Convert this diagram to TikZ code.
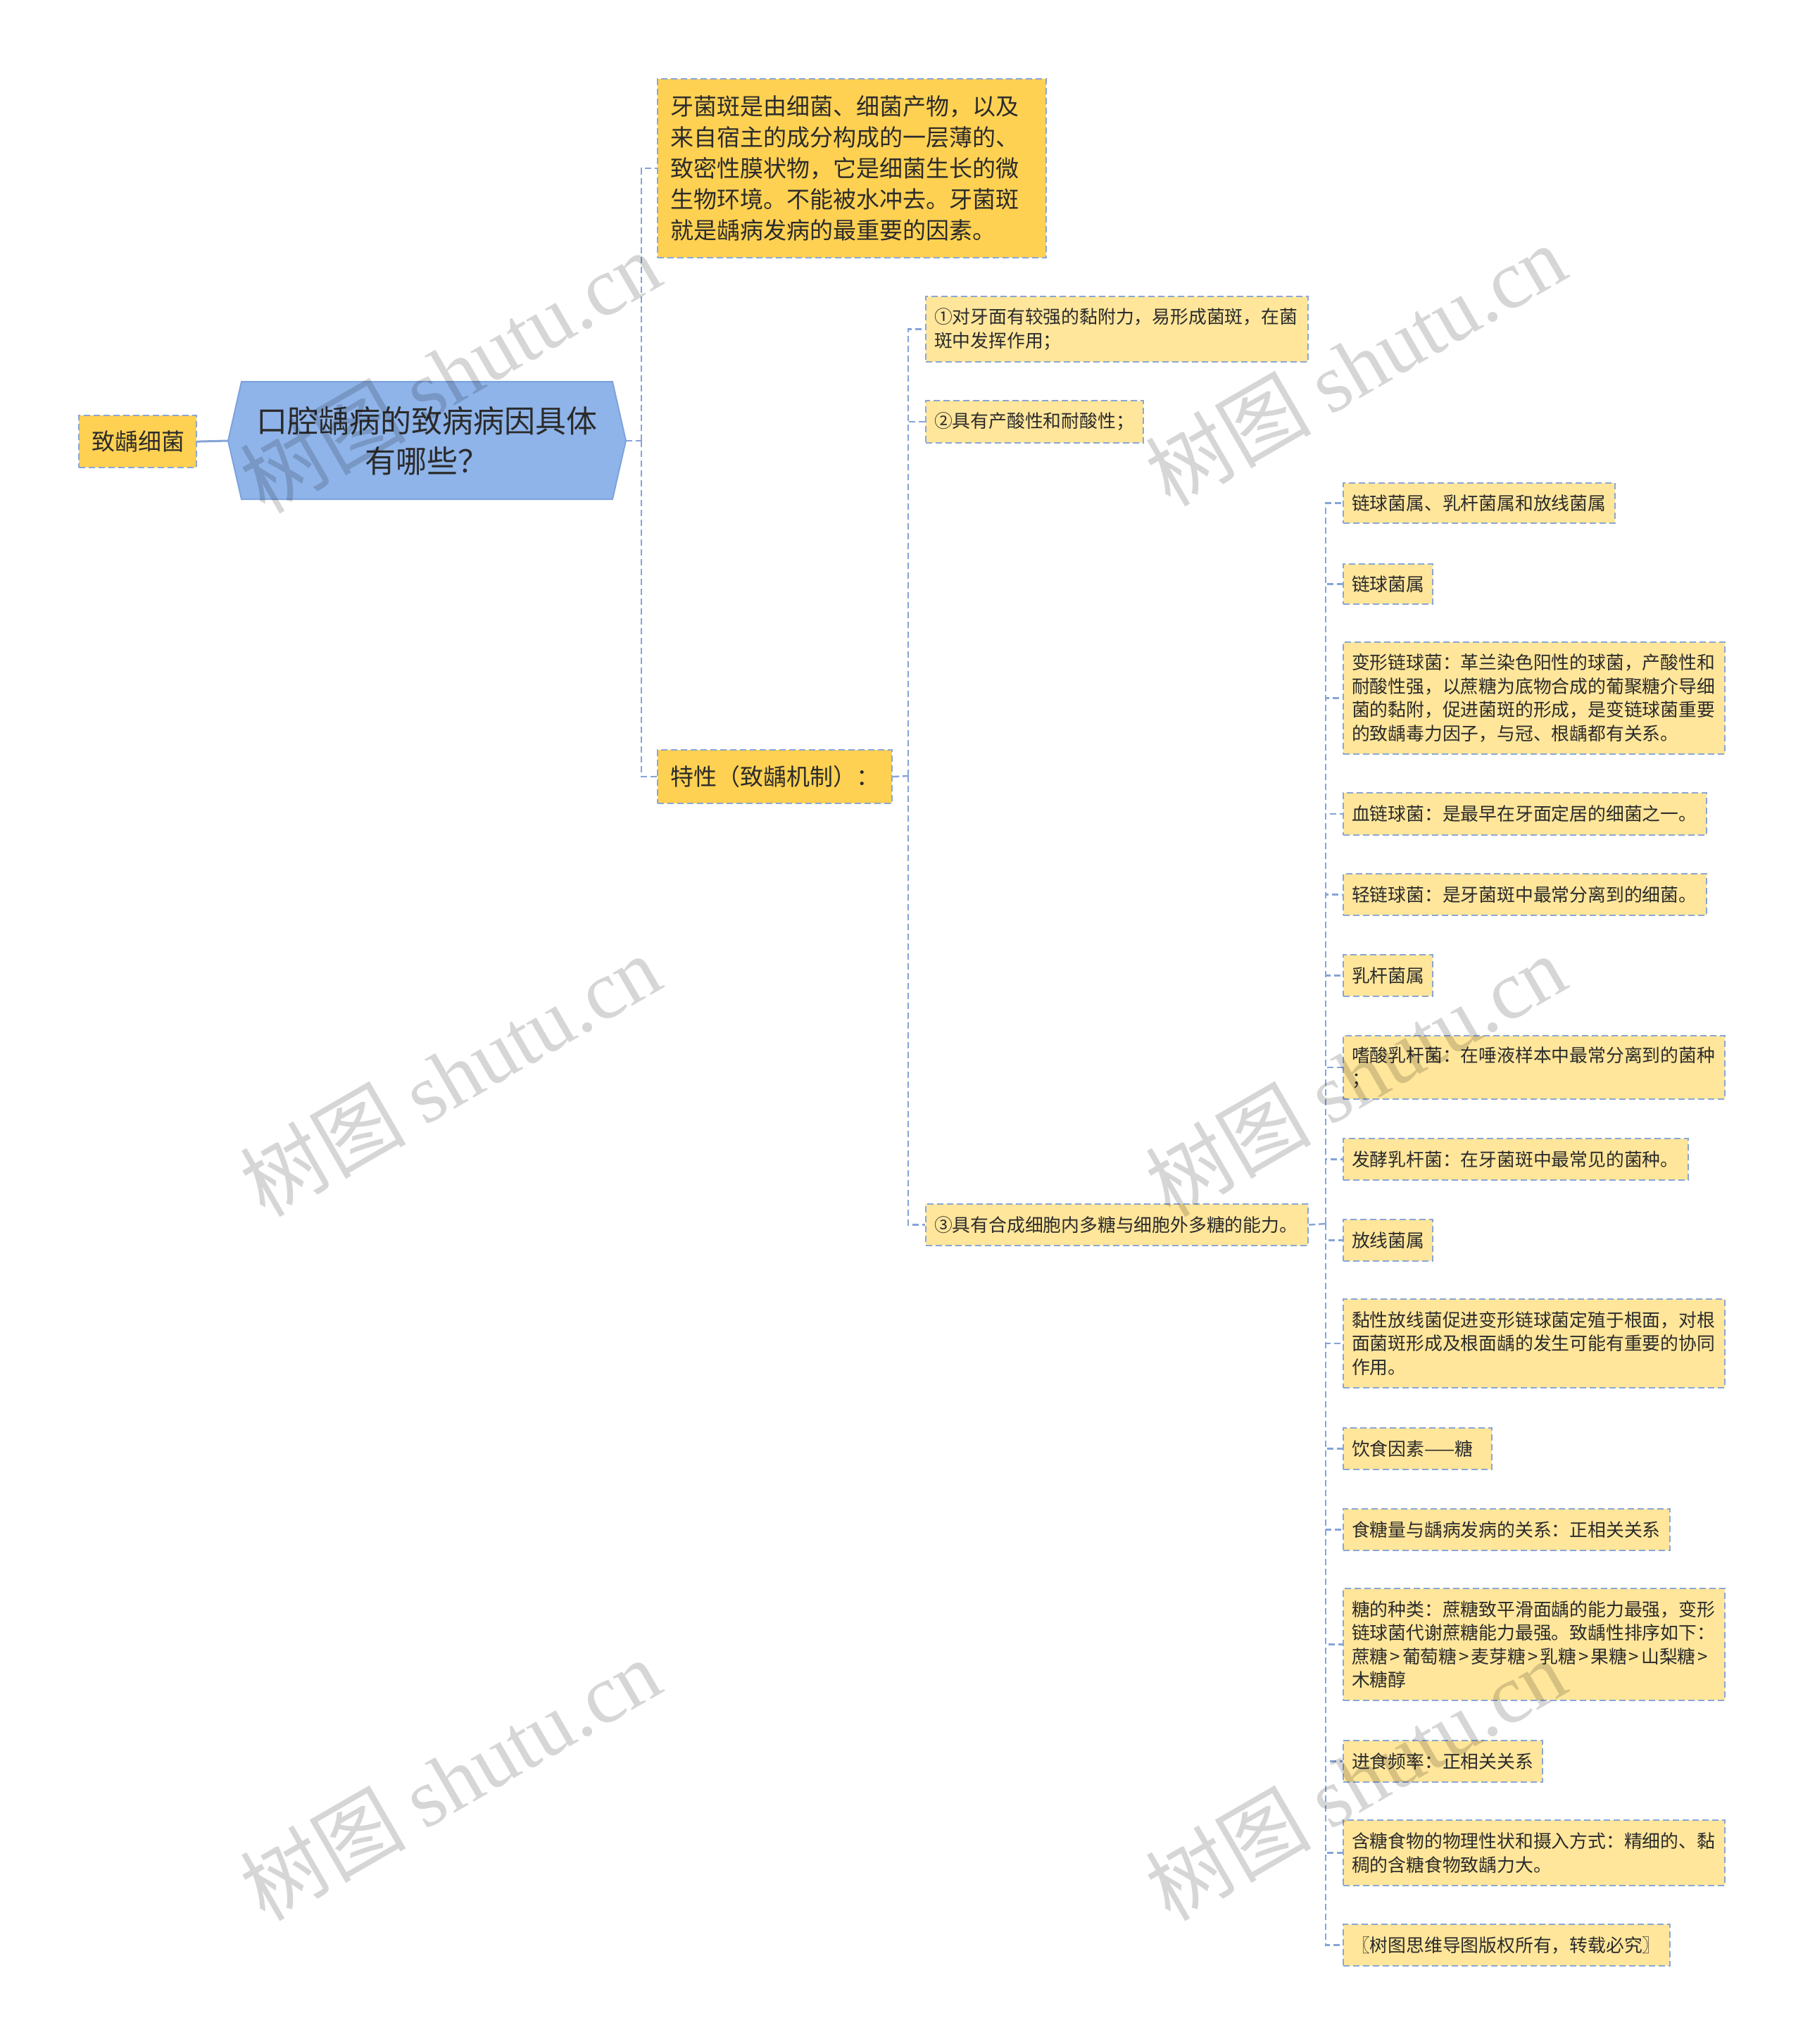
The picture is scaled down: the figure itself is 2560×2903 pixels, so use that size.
\documentclass[tikz,border=0pt]{standalone}
\usepackage{fontspec}
\setmainfont{Noto Sans CJK SC}
\newfontfamily\wmserif{Liberation Serif}
\definecolor{gold}{HTML}{FFD152}
\definecolor{lite}{HTML}{FFE69B}
\definecolor{bordc}{HTML}{8AA6D6}
\definecolor{linec}{HTML}{86A4D8}
\definecolor{hexfill}{HTML}{8FB4EA}
\definecolor{hexline}{HTML}{7EA3DD}
\definecolor{txt}{HTML}{2B2B2B}
\tikzset{
  box/.style={draw=bordc, line width=2.2pt, dash pattern=on 9pt off 5pt,
    anchor=north west, align=left, inner ysep=2pt, text=txt},
  big/.style={box, fill=gold, font=\fontsize{33}{44}\selectfont, inner xsep=18pt},
  small/.style={box, fill=lite, font=\fontsize{25.8}{33.5}\selectfont, inner xsep=12pt},
  conn/.style={draw=linec, line width=2.4pt, dash pattern=on 9pt off 5pt},
  wm/.style={text=black, text opacity=0.16, rotate=30, inner sep=0pt}
}
\begin{document}
\begin{tikzpicture}[x=1pt,y=-1pt]
\useasboundingbox (0,0) rectangle (2560,2903);
\fill[white] (0,0) rectangle (2560,2903);

% root hexagon
\coordinate (hexL) at (324,626);
\coordinate (hexR) at (889,626);
\draw[fill=hexfill, draw=hexline, line width=2pt]
  (hexL) -- (343,542) -- (870,542) -- (hexR) -- (870,709) -- (343,709) -- cycle;
\node[text=txt, font=\fontsize{44}{57}\selectfont, align=center] (root) at (606,626)
  {口腔龋病的致病病因具体\\有哪些？};

% left node
\node[big, minimum width=167pt, minimum height=74pt, text width=131pt, inner xsep=18pt] (A) at (111,589) {致龋细菌};
\draw[draw=linec, line width=3pt] (A.east) -- (hexL);

% level 1
\node[big, minimum height=254pt, text width=516pt] (b1) at (933,111)
  {牙菌斑是由细菌、细菌产物，以及\\来自宿主的成分构成的一层薄的、\\致密性膜状物，它是细菌生长的微\\生物环境。不能被水冲去。牙菌斑\\就是龋病发病的最重要的因素。};
\node[big, minimum height=76pt, text width=297pt] (traits) at (933,1064) {特性（致龋机制）：};

\coordinate (s1) at (911,626);
\draw[conn] (hexR) -- (s1);
\draw[conn] (s1) |- (b1.west);
\draw[conn] (s1) |- (traits.west);

% level 2
\node[small, minimum height=93pt, text width=519pt] (c1) at (1314,420)
  {①对牙面有较强的黏附力，易形成菌斑，在菌\\斑中发挥作用；};
\node[small, minimum height=60pt, text width=285pt] (c2) at (1314,568) {②具有产酸性和耐酸性；};
\node[small, minimum height=59pt, text width=519pt] (c3) at (1314,1709) {③具有合成细胞内多糖与细胞外多糖的能力。};

\coordinate (s2) at (1290,1102);
\draw[conn] (traits.east) -- (s2);
\draw[conn] (s2) |- (c1.west);
\draw[conn] (s2) |- (c2.west);
\draw[conn] (s2) |- (c3.west);

% level 3
\node[small, minimum height=57pt, text width=362pt] (d1) at (1907,685) {链球菌属、乳杆菌属和放线菌属};
\node[small, minimum height=57pt, text width=103pt] (d2) at (1907,800) {链球菌属};
\node[small, minimum height=159pt, text width=518pt] (d3) at (1907,911)
  {变形链球菌：革兰染色阳性的球菌，产酸性和\\耐酸性强，以蔗糖为底物合成的葡聚糖介导细\\菌的黏附，促进菌斑的形成，是变链球菌重要\\的致龋毒力因子，与冠、根龋都有关系。};
\node[small, minimum height=60pt, text width=492pt] (d4) at (1907,1125) {血链球菌：是最早在牙面定居的细菌之一。};
\node[small, minimum height=59pt, text width=492pt] (d5) at (1907,1240) {轻链球菌：是牙菌斑中最常分离到的细菌。};
\node[small, minimum height=59pt, text width=103pt] (d6) at (1907,1355) {乳杆菌属};
\node[small, minimum height=90pt, text width=518pt] (d7) at (1907,1470)
  {嗜酸乳杆菌：在唾液样本中最常分离到的菌种\\；};
\node[small, minimum height=59pt, text width=466pt] (d8) at (1907,1616) {发酵乳杆菌：在牙菌斑中最常见的菌种。};
\node[small, minimum height=59pt, text width=103pt] (d9) at (1907,1731) {放线菌属};
\node[small, minimum height=126pt, text width=518pt] (d10) at (1907,1844)
  {黏性放线菌促进变形链球菌定殖于根面，对根\\面菌斑形成及根面龋的发生可能有重要的协同\\作用。};
\node[small, minimum height=59pt, text width=187pt] (d11) at (1907,2027) {饮食因素——糖};
\node[small, minimum height=59pt, text width=440pt] (d12) at (1907,2142) {食糖量与龋病发病的关系：正相关关系};
\node[small, minimum height=159pt, text width=518pt] (d13) at (1907,2255)
  {糖的种类：蔗糖致平滑面龋的能力最强，变形\\链球菌代谢蔗糖能力最强。致龋性排序如下：\\蔗糖\kern3pt>\kern3pt葡萄糖\kern3pt>\kern3pt麦芽糖\kern3pt>\kern3pt乳糖\kern3pt>\kern3pt果糖\kern3pt>\kern3pt山梨糖\kern3pt>\\木糖醇};
\node[small, minimum height=59pt, text width=259pt] (d14) at (1907,2471) {进食频率：正相关关系};
\node[small, minimum height=93pt, text width=518pt] (d15) at (1907,2584)
  {含糖食物的物理性状和摄入方式：精细的、黏\\稠的含糖食物致龋力大。};
\node[small, minimum height=59pt, text width=440pt] (d16) at (1907,2732) {〖树图思维导图版权所有，转载必究〗};

\coordinate (s3) at (1883,1738);
\draw[conn] (c3.east) -- (s3);
\foreach \n in {d1,d2,d3,d4,d5,d6,d7,d8,d9,d10,d11,d12,d13,d14,d15,d16}
  \draw[conn] (s3) |- (\n.west);

% watermarks
\foreach \wx/\wy [count=\i] in {639/528, 1925/518, 639/1527, 1925/1527, 639/2527, 1925/2527}
  \node[wm] (wm\i) at (\wx,\wy) {\fontsize{118}{120}\selectfont 树图 {\wmserif shutu.cn}};
\end{tikzpicture}
\end{document}
